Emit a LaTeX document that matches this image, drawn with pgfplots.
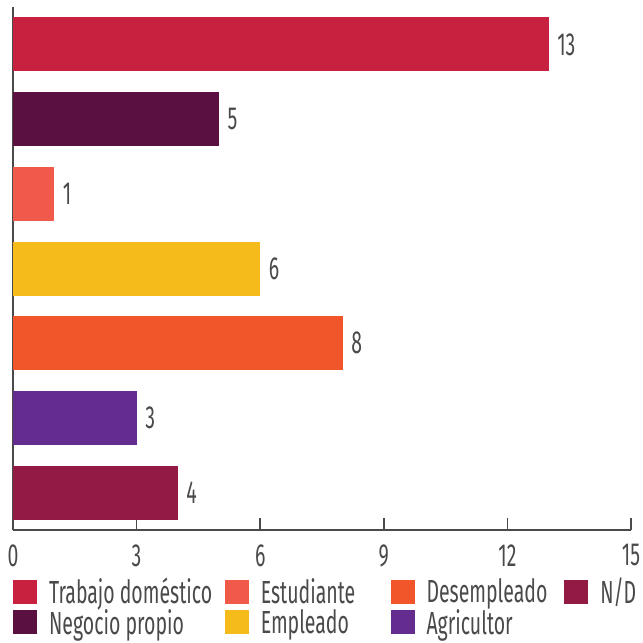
\documentclass[border=0pt]{standalone}
\usepackage{fontspec}
\setmainfont{Fira Sans}[FakeStretch=0.61]
\usepackage{pgfplots}
\pgfplotsset{compat=1.18}
\definecolor{cTrab}{HTML}{C8213F}
\definecolor{cNeg}{HTML}{5A1040}
\definecolor{cEst}{HTML}{F05A4A}
\definecolor{cEmp}{HTML}{F5BB1A}
\definecolor{cDes}{HTML}{F0562A}
\definecolor{cAgr}{HTML}{652C90}
\definecolor{cND}{HTML}{941A46}
\definecolor{txt}{HTML}{4A4A4A}
\newcommand{\lgbox}[2]{\makebox[#1][l]{#2}}
\begin{document}
\begin{tikzpicture}
\begin{axis}[
  name=ax,
  scale only axis,
  width=619pt, height=524pt,
  xmin=0, xmax=15,
  ymin=-0.5, ymax=6.5,
  xtick={0,3,6,9,12,15},
  ytick=\empty,
  axis x line=bottom, axis y line=left,
  axis line style={-, draw=txt, line width=1.6pt},
  tick style={draw=txt, line width=1.6pt},
  major tick length=12pt,
  tick align=inside,
  /pgf/number format/assume math mode=true,
  ticklabel style={font=\fontsize{32}{32}\selectfont, text=txt},
  xticklabel style={inner sep=0pt, yshift=-14pt},
  xbar, bar width=54pt, bar shift=0pt,
  nodes near coords,
  every node near coord/.append style={font=\fontsize{32}{32}\selectfont, text=txt, inner sep=0pt, xshift=8.5pt},
  legend style={draw=none, at={(0,-0.087)}, anchor=north west, font=\fontsize{32}{32}\selectfont, text=txt,
    /tikz/every even column/.append style={column sep=0pt}, row sep=0pt, inner sep=0pt},
  legend columns=4,
  legend cell align=left,
  legend image code/.code={\fill[#1,draw=none] (1pt,-12pt) rectangle (25pt,12pt); \path (35pt,0pt);},
]
\addplot[fill=cTrab, draw=none] coordinates {(13,6)};
\addlegendentry{\lgbox{174pt}{Trabajo doméstico}}
\addplot[fill=cEst, draw=none] coordinates {(1,4)};
\addlegendentry{\lgbox{128pt}{Estudiante}}
\addplot[fill=cDes, draw=none] coordinates {(8,2)};
\addlegendentry{\lgbox{136pt}{Desempleado}}
\addplot[fill=cND, draw=none] coordinates {(4,0)};
\addlegendentry{N/D}
\addplot[fill=cNeg, draw=none] coordinates {(5,5)};
\addlegendentry{\lgbox{174pt}{Negocio propio}}
\addplot[fill=cEmp, draw=none] coordinates {(6,3)};
\addlegendentry{\lgbox{128pt}{Empleado}}
\addplot[fill=cAgr, draw=none] coordinates {(3,1)};
\addlegendentry{\lgbox{136pt}{Agricultor}}
\end{axis}
\pgfresetboundingbox
\path ([xshift=-13pt,yshift=7pt]ax.north west) rectangle ([xshift=11pt,yshift=-113pt]ax.south east);
\end{tikzpicture}
\end{document}
